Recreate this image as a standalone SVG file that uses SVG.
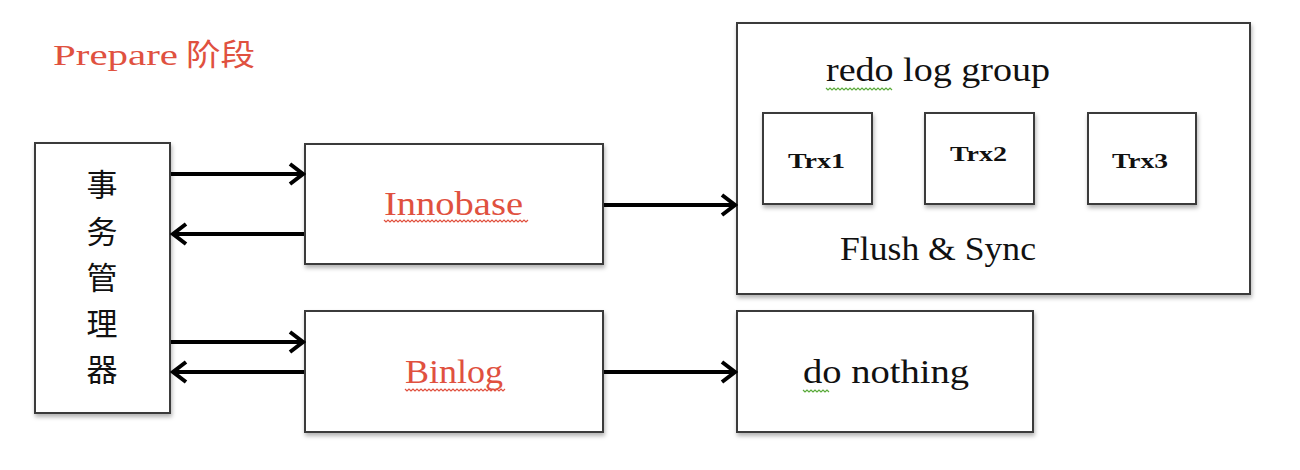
<svg xmlns="http://www.w3.org/2000/svg" width="1300" height="470" viewBox="0 0 1300 470">
<style>
.box{fill:#fff;stroke:#3a3a3a;stroke-width:2;filter:url(#sh)}
.t{font-family:"Liberation Serif","DejaVu Serif",serif;font-size:33px;fill:#111}
.red{fill:#e0513f}
.cn{font-family:"Noto Sans CJK SC",sans-serif;font-size:31px;fill:#111}
.trx{font-family:"Liberation Serif","DejaVu Serif",serif;font-size:22px;font-weight:bold;fill:#111}
.c{stroke:#000;stroke-width:4;fill:none}
.wr{stroke:#e0513f;stroke-width:1.2;fill:none}
.wg{stroke:#5aaa3a;stroke-width:1.2;fill:none}
</style>
<defs>
<filter id="sh" x="-10%" y="-10%" width="130%" height="130%">
<feDropShadow dx="1" dy="3" stdDeviation="2" flood-color="#000" flood-opacity="0.3"/>
</filter>
<marker id="ahl" markerWidth="30" markerHeight="30" viewBox="0 0 30 30" refX="27" refY="15" orient="auto" markerUnits="userSpaceOnUse">
<path d="M14,5 L27,15 L14,25" fill="none" stroke="#000" stroke-width="4" stroke-linejoin="miter"/>
</marker>
</defs>
<text x="53" y="65" class="red" style="font-family:'Liberation Serif','DejaVu Serif',serif;font-size:30px" textLength="125" lengthAdjust="spacingAndGlyphs">Prepare</text>
<text x="186" y="65" class="red" style="font-family:'Noto Sans CJK SC',sans-serif;font-size:30px" textLength="69" lengthAdjust="spacingAndGlyphs">阶段</text>
<g id="manager">
<rect class="box" x="35" y="143" width="135" height="270"/>
<text class="cn" x="102" y="196" text-anchor="middle">事</text>
<text class="cn" x="102" y="243" text-anchor="middle">务</text>
<text class="cn" x="102" y="289" text-anchor="middle">管</text>
<text class="cn" x="102" y="335" text-anchor="middle">理</text>
<text class="cn" x="102" y="381" text-anchor="middle">器</text>
</g>
<g id="innobase">
<rect class="box" x="305" y="144" width="298" height="120"/>
<text class="t red" x="384" y="215" textLength="139" lengthAdjust="spacingAndGlyphs">Innobase</text>
<path class="wr" d="M384,220 l2,2 l2,-2 l2,2 l2,-2 l2,2 l2,-2 l2,2 l2,-2 l2,2 l2,-2 l2,2 l2,-2 l2,2 l2,-2 l2,2 l2,-2 l2,2 l2,-2 l2,2 l2,-2 l2,2 l2,-2 l2,2 l2,-2 l2,2 l2,-2 l2,2 l2,-2 l2,2 l2,-2 l2,2 l2,-2 l2,2 l2,-2 l2,2 l2,-2 l2,2 l2,-2 l2,2 l2,-2 l2,2 l2,-2 l2,2 l2,-2 l2,2 l2,-2 l2,2 l2,-2 l2,2 l2,-2 l2,2 l2,-2 l2,2 l2,-2 l2,2 l2,-2 l2,2 l2,-2 l2,2 l2,-2 l2,2 l2,-2 l2,2 l2,-2 l2,2 l2,-2 l2,2 l2,-2 l2,2 l2,-2 l2,2 l2,-2"/>
</g>
<g id="binlog">
<rect class="box" x="305" y="311" width="298" height="121"/>
<text class="t red" x="405" y="383" textLength="98" lengthAdjust="spacingAndGlyphs">Binlog</text>
<path class="wr" d="M405,389 l2,2 l2,-2 l2,2 l2,-2 l2,2 l2,-2 l2,2 l2,-2 l2,2 l2,-2 l2,2 l2,-2 l2,2 l2,-2 l2,2 l2,-2 l2,2 l2,-2 l2,2 l2,-2 l2,2 l2,-2 l2,2 l2,-2 l2,2 l2,-2 l2,2 l2,-2 l2,2 l2,-2 l2,2 l2,-2 l2,2 l2,-2 l2,2 l2,-2 l2,2 l2,-2 l2,2 l2,-2 l2,2 l2,-2 l2,2 l2,-2 l2,2 l2,-2 l2,2 l2,-2 l2,2 l2,-2"/>
</g>
<g id="redo">
<rect class="box" x="737" y="23" width="513" height="271"/>
<text class="t" x="826" y="81" textLength="224" lengthAdjust="spacingAndGlyphs">redo log group</text>
<path class="wg" d="M826,88 l2,2 l2,-2 l2,2 l2,-2 l2,2 l2,-2 l2,2 l2,-2 l2,2 l2,-2 l2,2 l2,-2 l2,2 l2,-2 l2,2 l2,-2 l2,2 l2,-2 l2,2 l2,-2 l2,2 l2,-2 l2,2 l2,-2 l2,2 l2,-2 l2,2 l2,-2 l2,2 l2,-2 l2,2 l2,-2 l2,2"/>
<text class="t" x="840" y="260" textLength="196" lengthAdjust="spacingAndGlyphs">Flush &amp; Sync</text>
</g>
<g id="trx1">
<rect class="box" x="763" y="113" width="109" height="91"/>
<text class="trx" x="788" y="168" textLength="57" lengthAdjust="spacingAndGlyphs">Trx1</text>
</g>
<g id="trx2">
<rect class="box" x="925" y="113" width="109" height="91"/>
<text class="trx" x="950" y="161" textLength="57" lengthAdjust="spacingAndGlyphs">Trx2</text>
</g>
<g id="trx3">
<rect class="box" x="1088" y="113" width="108" height="91"/>
<text class="trx" x="1112" y="168" textLength="56" lengthAdjust="spacingAndGlyphs">Trx3</text>
</g>
<g id="nothing">
<rect class="box" x="737" y="311" width="296" height="121"/>
<text class="t" x="803" y="383" textLength="166" lengthAdjust="spacingAndGlyphs">do nothing</text>
<path class="wg" d="M803,390 l2,2 l2,-2 l2,2 l2,-2 l2,2 l2,-2 l2,2 l2,-2 l2,2 l2,-2 l2,2 l2,-2 l2,2"/>
</g>
<g id="connectors">
<line class="c" x1="171" y1="174" x2="303" y2="174" marker-end="url(#ahl)"/>
<line class="c" x1="304" y1="234" x2="173" y2="234" marker-end="url(#ahl)"/>
<line class="c" x1="171" y1="342" x2="303" y2="342" marker-end="url(#ahl)"/>
<line class="c" x1="304" y1="372" x2="173" y2="372" marker-end="url(#ahl)"/>
<line class="c" x1="604" y1="205" x2="735" y2="205" marker-end="url(#ahl)"/>
<line class="c" x1="604" y1="372" x2="735" y2="372" marker-end="url(#ahl)"/>
</g>
</svg>
